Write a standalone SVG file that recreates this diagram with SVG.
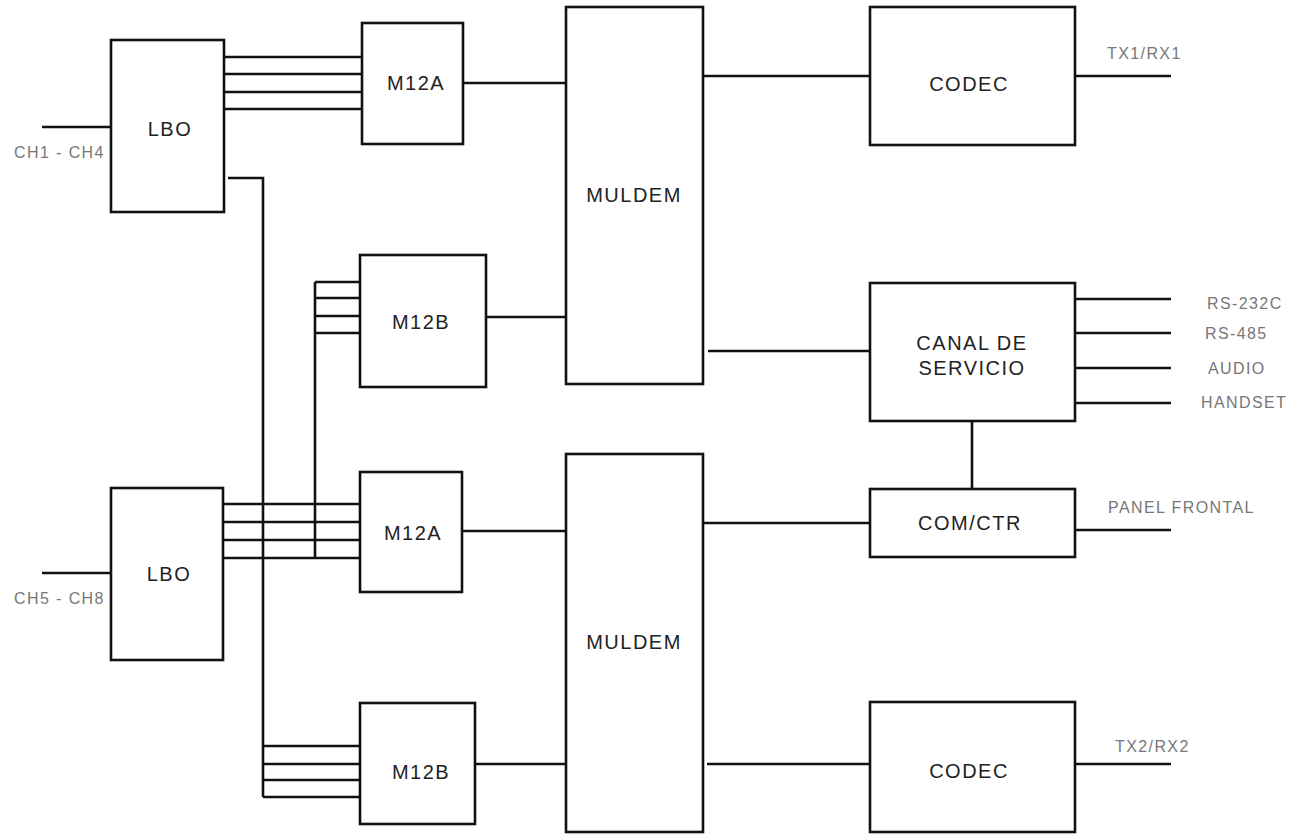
<svg xmlns="http://www.w3.org/2000/svg" width="1298" height="834" viewBox="0 0 1298 834">
<style>
.box{fill:#fff;stroke:#111;stroke-width:2.6}
.ln{fill:none;stroke:#111;stroke-width:2.6}
.lbl{font-family:"Liberation Sans",Arial,sans-serif;font-size:20px;fill:#222;text-anchor:middle;letter-spacing:1.5px}
.sm{font-family:"Liberation Sans",Arial,sans-serif;font-size:16px;fill:#777;letter-spacing:1.4px}
</style>
<rect width="1298" height="834" fill="#fff"/>
<g id="connectors">
<path class="ln" d="M42 127H111 M42 573H111"/>
<path class="ln" d="M224 57H362 M224 74H362 M224 92H362 M224 109H362"/>
<path class="ln" d="M228 178H263V797 M263 746H360 M263 764H360 M263 780H360 M263 797H360"/>
<path class="ln" d="M315 558V282 M315 282H360 M315 298H360 M315 316H360 M315 333H360"/>
<path class="ln" d="M223 504H360 M223 522H360 M223 540H360 M223 558H360"/>
<path class="ln" d="M463 83H566 M486 317H566 M462 531H566 M475 764H566"/>
<path class="ln" d="M700 76H870 M708 351H870 M700 523H870 M707 764H870"/>
<path class="ln" d="M972 421V489"/>
<path class="ln" d="M1075 76H1171 M1075 299H1171 M1075 333H1171 M1075 368H1171 M1075 403H1171 M1075 530H1171 M1075 764H1171"/>
</g>
<g id="lbo1"><rect class="box" x="111" y="40" width="113" height="172"/><text class="lbl" x="170" y="136">LBO</text></g>
<g id="lbo2"><rect class="box" x="111" y="488" width="112" height="172"/><text class="lbl" x="169" y="581">LBO</text></g>
<g id="m12a1"><rect class="box" x="362" y="23" width="101" height="121"/><text class="lbl" x="416" y="90">M12A</text></g>
<g id="m12b1"><rect class="box" x="360" y="255" width="126" height="132"/><text class="lbl" x="421" y="329">M12B</text></g>
<g id="m12a2"><rect class="box" x="360" y="472" width="102" height="120"/><text class="lbl" x="413" y="540">M12A</text></g>
<g id="m12b2"><rect class="box" x="360" y="703" width="115" height="121"/><text class="lbl" x="421" y="779">M12B</text></g>
<g id="muldem1"><rect class="box" x="566" y="7" width="137" height="377"/><text class="lbl" x="634" y="202">MULDEM</text></g>
<g id="muldem2"><rect class="box" x="566" y="454" width="137" height="378"/><text class="lbl" x="634" y="649">MULDEM</text></g>
<g id="codec1"><rect class="box" x="870" y="7" width="205" height="138"/><text class="lbl" x="969" y="91">CODEC</text></g>
<g id="canal"><rect class="box" x="870" y="283" width="205" height="138"/><text class="lbl" x="972" y="350">CANAL DE</text><text class="lbl" x="972" y="375">SERVICIO</text></g>
<g id="comctr"><rect class="box" x="870" y="489" width="205" height="68"/><text class="lbl" x="970" y="530">COM/CTR</text></g>
<g id="codec2"><rect class="box" x="870" y="702" width="205" height="130"/><text class="lbl" x="969" y="778">CODEC</text></g>
<g id="labels">
<text class="sm" x="14" y="158">CH1 - CH4</text>
<text class="sm" x="14" y="604">CH5 - CH8</text>
<text class="sm" x="1107" y="59">TX1/RX1</text>
<text class="sm" x="1207" y="309">RS-232C</text>
<text class="sm" x="1205" y="339">RS-485</text>
<text class="sm" x="1208" y="374">AUDIO</text>
<text class="sm" x="1201" y="408">HANDSET</text>
<text class="sm" x="1108" y="513">PANEL FRONTAL</text>
<text class="sm" x="1115" y="752">TX2/RX2</text>
</g>
</svg>
